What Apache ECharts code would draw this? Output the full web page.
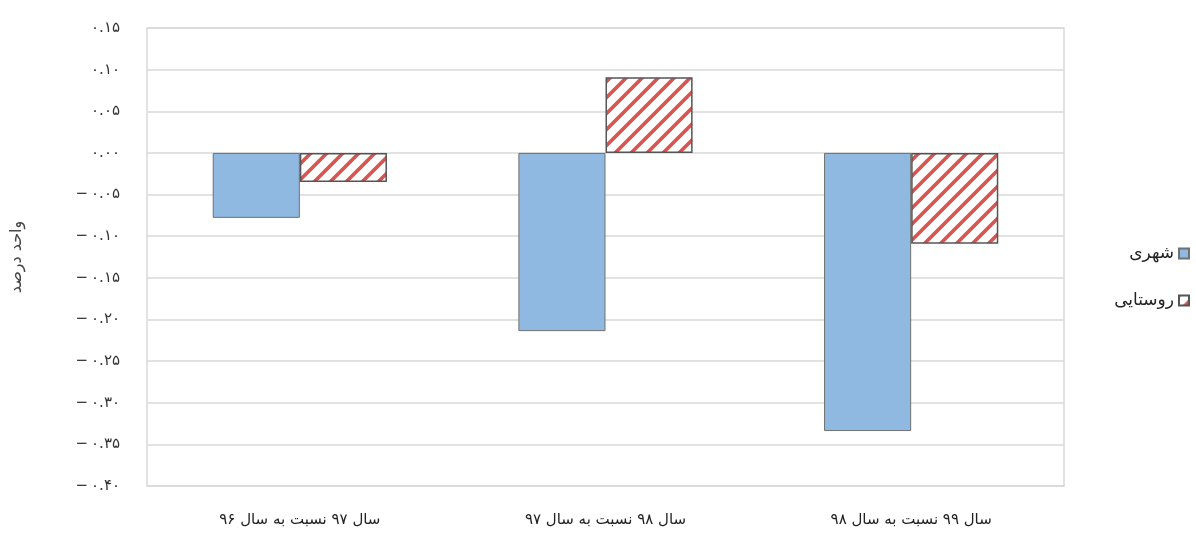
<!DOCTYPE html>
<html><head><meta charset="utf-8">
<script src="https://cdn.jsdelivr.net/npm/echarts@6/dist/echarts.min.js"></script>
<style>html,body{margin:0;padding:0;background:#fff}#c{width:1196px;height:534px}</style>
</head><body><div id="c"></div>
<script>
const categories = ['سال ۹۷ نسبت به سال ۹۶', 'سال ۹۸ نسبت به سال ۹۷', 'سال ۹۹ نسبت به سال ۹۸'];
const seriesNames = ['شهری', 'روستایی'];
const urbanValues = [-0.078, -0.214, -0.334];
const ruralValues = [-0.035, 0.091, -0.109];
const yAxisName = 'واحد درصد';

const fa = ['۰','۱','۲','۳','۴','۵','۶','۷','۸','۹'];
function toFa(v) {
  const s = Math.abs(v).toFixed(2).replace(/[0-9]/g, d => fa[+d]);
  return (v < -1e-9 ? '−' + '\u2009' : '') + s;
}

function stripes() {
  const n = 16;
  const c = document.createElement('canvas');
  c.width = n; c.height = n;
  const g = c.getContext('2d');
  g.fillStyle = '#ffffff'; g.fillRect(0, 0, n, n);
  g.strokeStyle = '#d9534f'; g.lineWidth = 3.6;
  g.beginPath();
  [0, n, 2 * n].forEach(s => { g.moveTo(s + 2, -2); g.lineTo(s - n - 2, n + 2); });
  g.stroke();
  return c;
}
const pattern = { image: stripes(), repeat: 'repeat' };

const chart = echarts.init(document.getElementById('c'), null, { renderer: 'canvas' });
chart.setOption({
  animation: false,
  backgroundColor: '#ffffff',
  textStyle: { fontFamily: 'DejaVu Sans' },
  grid: { left: 147, right: 132, top: 28, bottom: 48, show: true, borderColor: '#d9d9d9', borderWidth: 1.5, containLabel: false },
  legend: {
    orient: 'vertical', right: 1, top: 240, align: 'right', itemWidth: 10, itemHeight: 10, itemGap: 30,
    icon: 'rect',
    textStyle: { fontSize: 17, color: '#222', fontFamily: 'DejaVu Sans' },
    data: seriesNames
  },
  xAxis: {
    type: 'category', data: categories,
    axisLine: { show: false }, axisTick: { show: false },
    axisLabel: { fontSize: 15, color: '#222', margin: 27, fontFamily: 'DejaVu Sans' }
  },
  yAxis: {
    type: 'value', min: -0.4, max: 0.15, interval: 0.05,
    name: yAxisName, nameLocation: 'middle', nameGap: 122, nameRotate: 90,
    nameTextStyle: { fontSize: 16, color: '#444', fontFamily: 'DejaVu Sans' },
    axisLine: { show: false }, axisTick: { show: false },
    axisLabel: { fontSize: 15, color: '#333', margin: 27, formatter: toFa, fontFamily: 'DejaVu Sans' },
    splitLine: { lineStyle: { color: '#d9d9d9', width: 1.5 } }
  },
  series: [
    { name: seriesNames[0], type: 'bar', data: urbanValues, barWidth: '28.5%', barGap: '0%',
      itemStyle: { color: '#8fb9e1', borderColor: '#707070', borderWidth: 1 } },
    { name: seriesNames[1], type: 'bar', data: ruralValues, barWidth: '28.5%', barGap: '0%',
      itemStyle: { color: pattern, borderColor: '#555555', borderWidth: 1.5 } }
  ]
});
</script></body></html>
